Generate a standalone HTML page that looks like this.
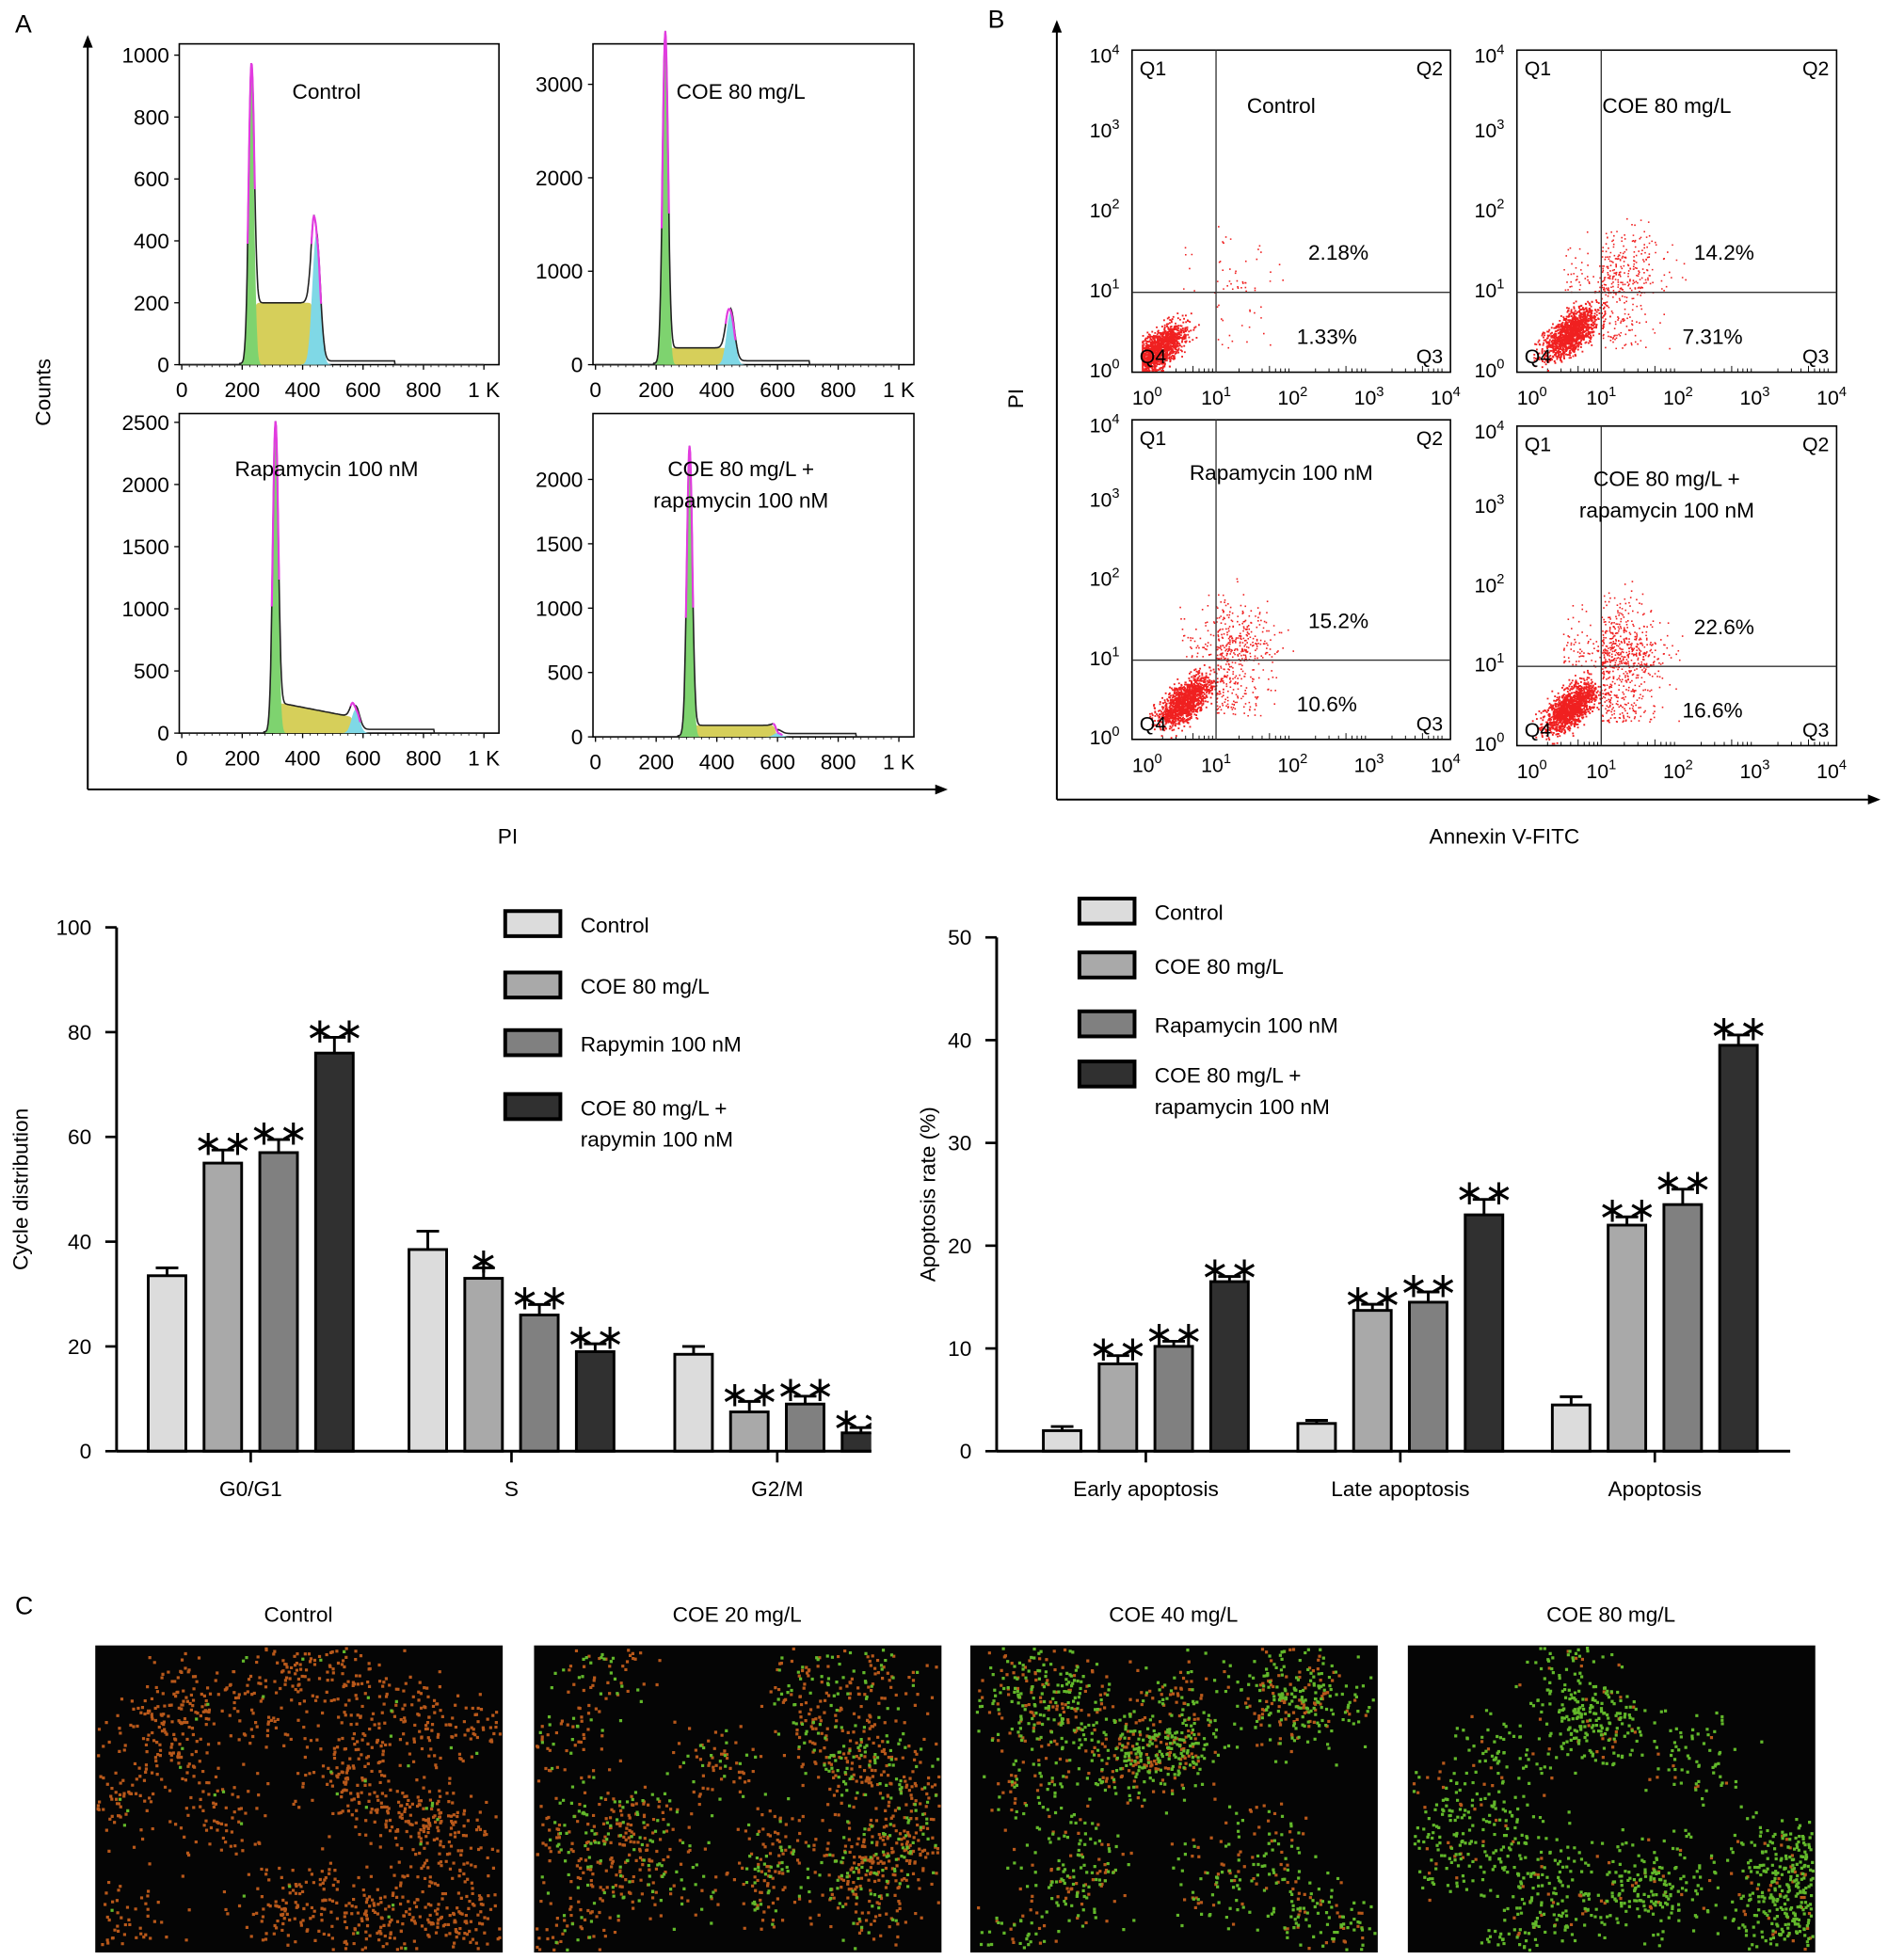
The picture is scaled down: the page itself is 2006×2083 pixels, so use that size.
<!DOCTYPE html>
<html><head><meta charset="utf-8"><style>
html,body{margin:0;padding:0;background:#fff}
svg{display:block;font-family:"Liberation Sans",sans-serif}
</style></head><body>
<svg id="fig" width="2006" height="2083" viewBox="0 0 1506 1564" preserveAspectRatio="none" xmlns="http://www.w3.org/2000/svg">
<g id="panelA"></g>
<g id="panelB"></g>
<g id="bar1"></g>
<g id="bar2"></g>
<g id="panelC"></g>
</svg>
<script>
// ---- data ----
const histTitles=[["Control"],["COE 80 mg/L"],["Rapamycin 100 nM"],["COE 80 mg/L +","rapamycin 100 nM"]];
const histYMax=[1000,3500,2500,2200];
const histYStep=[200,1000,500,500];
const histG1Pos=[230,230,310,310];
const histG1Height=[950,3550,2480,2250];
const histSLevel=[200,180,250,90];
const histG2Pos=[445,445,575,600];
const histG2Height=[420,560,190,30];
const histXTicks=["0","200","400","600","800","1 K"];

const dotTitles=[["Control"],["COE 80 mg/L"],["Rapamycin 100 nM"],["COE 80 mg/L +","rapamycin 100 nM"]];
const dotQ2=["2.18%","14.2%","15.2%","22.6%"];
const dotQ3=["1.33%","7.31%","10.6%","16.6%"];
const dotQ2Val=[2.18,14.2,15.2,22.6];
const dotQ3Val=[1.33,7.31,10.6,16.6];

const cycleCats=["G0/G1","S","G2/M"];
const cycleControl=[33.5,38.5,18.5];
const cycleCOE=[55,33,7.5];
const cycleRapa=[57,26,9];
const cycleCombo=[76,19,3.5];
const cycleErrControl=[1.5,3.5,1.5];
const cycleErrCOE=[2.5,2,2];
const cycleErrRapa=[2.5,2,1.5];
const cycleErrCombo=[3,1.5,1];
const cycleStars=[["","**","**","**"],["","*","**","**"],["","**","**","**"]];
const cycleTicks=[0,20,40,60,80,100];

const apoCats=["Early apoptosis","Late apoptosis","Apoptosis"];
const apoControl=[2,2.7,4.5];
const apoCOE=[8.5,13.7,22];
const apoRapa=[10.2,14.5,24];
const apoCombo=[16.5,23,39.5];
const apoErrControl=[0.4,0.3,0.8];
const apoErrCOE=[0.8,0.6,0.8];
const apoErrRapa=[0.5,1,1.5];
const apoErrCombo=[0.5,1.5,1];
const apoStars=[["","**","**","**"],["","**","**","**"],["","**","**","**"]];
const apoTicks=[0,10,20,30,40,50];

const imgTitles=["Control","COE 20 mg/L","COE 40 mg/L","COE 80 mg/L"];
const imgGreenFrac=[0.03,0.3,0.6,0.88];

const NS="http://www.w3.org/2000/svg";
function el(tag,attrs,parent,txt){const e=document.createElementNS(NS,tag);for(const k in attrs)e.setAttribute(k,attrs[k]);if(txt!==undefined)e.textContent=txt;parent.appendChild(e);return e;}
let seed=12345;function rnd(){seed=(seed*1103515245+12345)%2147483648;return seed/2147483648;}
function gauss(){return (rnd()+rnd()+rnd()+rnd()-2)/0.58;}

// ---- Panel A ----
const A=document.getElementById('panelA');
let t=el('text',{x:12,y:26,'font-size':20},A,"A");
el('line',{x1:70,y1:36,x2:70,y2:630,stroke:'#000','stroke-width':1.5},A);
el('path',{d:'M66,38 L70,28 L74,38 Z',fill:'#000'},A);
el('line',{x1:70,y1:630,x2:748,y2:630,stroke:'#000','stroke-width':1.5},A);
el('path',{d:'M746,626 L756,630 L746,634 Z',fill:'#000'},A);
t=el('text',{x:40,y:313,'font-size':17,'text-anchor':'middle',transform:'rotate(-90 40 313)'},A,"Counts");
t=el('text',{x:405,y:673,'font-size':17,'text-anchor':'middle'},A,"PI");
const hBoxes=[[143,35,398,291],[473,35,729,291],[143,330,398,585],[473,330,729,588]];
hBoxes.forEach((b,i)=>{
  const g=el('g',{},A);
  const [x0,y0,x1,y1]=b;
  const top=(i==0?44:i==1?30:i==2?337:362);
  const ymax=histYMax[i];
  const sy=v=>y1-(v/ymax)*(y1-top);
  const sx=c=>x0+2+c*(x1-x0-14)/1000;
  el('rect',{x:x0,y:y0,width:x1-x0,height:y1-y0,fill:'#fff',stroke:'#000','stroke-width':1.2},g);
  for(let v=0;v<=ymax+1;v+=histYStep[i]){const y=sy(v);if(y<y0-2)continue;el('line',{x1:x0-4,y1:y,x2:x0,y2:y,stroke:'#000'},g);el('text',{x:x0-8,y:y+6,'font-size':17,'text-anchor':'end'},g,String(v));}
  histXTicks.forEach((l,k)=>{const x=sx(k*200);el('line',{x1:x,y1:y1,x2:x,y2:y1+4,stroke:'#000'},g);el('text',{x:x,y:y1+26,'font-size':17,'text-anchor':'middle'},g,l);});
  for(let c=0;c<=1000;c+=25){el('line',{x1:sx(c),y1:y1,x2:sx(c),y2:y1+2,stroke:'#000','stroke-width':0.6},g);}
  const p1=histG1Pos[i],h1=histG1Height[i],p2=histG2Pos[i],h2=histG2Height[i],sl=histSLevel[i];
  const G1=c=>h1*Math.exp(-Math.pow((c-p1)/9,2)/2);
  const G2=c=>h2*Math.exp(-Math.pow((c-p2)/13,2)/2);
  const S=c=>{if(c<p1||c>p2)return 0;const a=1/(1+Math.exp(-(c-p1-6)/3)),bb=1/(1+Math.exp((c-p2+6)/3));return sl*a*bb*(i==2?(1-0.5*(c-p1)/(p2-p1)):1);};
  function area(f,col){let d='M'+sx(p1-60)+','+y1;for(let c=p1-60;c<=p2+80;c+=2){d+=' L'+sx(c).toFixed(1)+','+sy(f(c)).toFixed(1);}d+=' L'+sx(p2+80)+','+y1+'Z';el('path',{d:d,fill:col,stroke:'none'},g);}
  area(S,'#d6cf5a');area(G2,'#7fd8e6');area(G1,'#7ed36f');
  let d='';for(let c=0;c<=1000;c+=2){const v=G1(c)+G2(c)+S(c)+(c>p2&&c<p2+260?ymax*0.012:0)+(c>p1-40&&c<p1?ymax*0.004:0);d+=(c?' L':'M')+sx(c).toFixed(1)+','+sy(v).toFixed(1);}
  el('path',{d:d,fill:'none',stroke:'#222','stroke-width':1.2},g);
  let pk='';for(let c=p1-12;c<=p1+12;c+=2){pk+=(c==p1-12?'M':' L')+sx(c).toFixed(1)+','+sy(G1(c)+S(c)).toFixed(1);}el('path',{d:pk,fill:'none',stroke:'#e23be0','stroke-width':1.6},g);
  pk='';for(let c=p2-16;c<=p2+16;c+=2){pk+=(c==p2-16?'M':' L')+sx(c).toFixed(1)+','+sy(G2(c)+S(c)).toFixed(1);}el('path',{d:pk,fill:'none',stroke:'#e23be0','stroke-width':1.6},g);
  const tt=histTitles[i];const tx=(x0+x1)/2-10;const ty=(i<2?79:380);
  tt.forEach((s,k)=>el('text',{x:tx,y:ty+k*25,'font-size':17,'text-anchor':'middle'},g,s));
});

// ---- Panel B ----
const B=document.getElementById('panelB');
t=el('text',{x:788,y:22,'font-size':20},B,"B");
el('line',{x1:843,y1:24,x2:843,y2:638,stroke:'#000','stroke-width':1.5},B);
el('path',{d:'M839,26 L843,16 L847,26 Z',fill:'#000'},B);
el('line',{x1:843,y1:638,x2:1492,y2:638,stroke:'#000','stroke-width':1.5},B);
el('path',{d:'M1490,634 L1500,638 L1490,642 Z',fill:'#000'},B);
t=el('text',{x:816,y:318,'font-size':17,'text-anchor':'middle',transform:'rotate(-90 816 318)'},B,"PI");
t=el('text',{x:1200,y:673,'font-size':17,'text-anchor':'middle'},B,"Annexin V-FITC");
const dBoxes=[[903,40,1157,297],[1210,40,1465,297],[903,335,1157,590],[1210,340,1465,595]];
dBoxes.forEach((b,i)=>{
  const g=el('g',{},B);
  const [x0,y0,x1,y1]=b;
  const lx=v=>x0+6+v*(x1-x0-10)/4, ly=v=>y1-v*(y1-y0-2)/4;
  el('rect',{x:x0,y:y0,width:x1-x0,height:y1-y0,fill:'#fff',stroke:'#000','stroke-width':1.2},g);
  for(let k=0;k<=4;k++){
    el('text',{x:lx(k)+(k==0?6:0),y:y1+26,'font-size':16,'text-anchor':'middle'},g,'10').appendChild(Object.assign(document.createElementNS(NS,'tspan'),{textContent:String(k)}));
    el('text',{x:x0-10,y:ly(k)+(k==4?8:4),'font-size':16,'text-anchor':'end'},g,'10').appendChild(Object.assign(document.createElementNS(NS,'tspan'),{textContent:String(k)}));
  }
  g.querySelectorAll('tspan').forEach(s=>{s.setAttribute('dy','-7');s.setAttribute('font-size','11');});
  for(let k=0;k<4;k++)for(let m=2;m<10;m++){const v=k+Math.log10(m);el('line',{x1:lx(v),y1:y1,x2:lx(v),y2:y1-(m==5?5:3),stroke:'#000','stroke-width':0.7},g);}
  seed=1000+i*77;
  const n=1300;
  let dots='';
  const cx=(i==0?0.25:0.6),cy=(i==0?0.3:0.5);
  for(let k=0;k<n;k++){const a=gauss()*0.16,bq=gauss()*0.07;let x=cx+a+bq,y=cy+a*0.9-bq;x=Math.max(0.03,x);y=Math.max(0.03,y);dots+='M'+lx(x).toFixed(1)+','+ly(y).toFixed(1)+'h1.4v1.4h-1.4z';}
  const n2=Math.round(dotQ2Val[i]*18),n3=Math.round(dotQ3Val[i]*14);
  for(let k=0;k<n2;k++){let x=1+Math.abs(gauss())*0.4,y=1+Math.abs(gauss())*0.38;dots+='M'+lx(Math.min(x,3.9)).toFixed(1)+','+ly(Math.min(y,3.9)).toFixed(1)+'h1.2v1.2h-1.2z';}
  for(let k=0;k<n3;k++){let x=1+Math.abs(gauss())*0.35,y=0.3+rnd()*0.7;dots+='M'+lx(Math.min(x,3.9)).toFixed(1)+','+ly(y).toFixed(1)+'h1.2v1.2h-1.2z';}
  for(let k=0;k<n2/6;k++){let x=0.5+rnd()*0.5,y=1+Math.abs(gauss())*0.35;dots+='M'+lx(x).toFixed(1)+','+ly(Math.min(y,3.9)).toFixed(1)+'h1.2v1.2h-1.2z';}
  el('path',{d:dots,fill:'#f02020'},g);
  el('line',{x1:lx(1),y1:y0,x2:lx(1),y2:y1,stroke:'#333','stroke-width':1},g);
  el('line',{x1:x0,y1:ly(1),x2:x1,y2:ly(1),stroke:'#333','stroke-width':1},g);
  el('text',{x:x0+6,y:y0+20,'font-size':16},g,"Q1");
  el('text',{x:x1-6,y:y0+20,'font-size':16,'text-anchor':'end'},g,"Q2");
  el('text',{x:x1-6,y:y1-7,'font-size':16,'text-anchor':'end'},g,"Q3");
  el('text',{x:x0+6,y:y1-7,'font-size':16},g,"Q4");
  dotTitles[i].forEach((s,k)=>el('text',{x:(x0+x1)/2-8,y:y0+(i>=2?48:50)+k*25,'font-size':17,'text-anchor':'middle'},g,s));
  el('text',{x:lx(2.6),y:ly(1.5)+6,'font-size':17,'text-anchor':'middle'},g,dotQ2[i]);
  el('text',{x:lx(2.45),y:ly(0.45)+6,'font-size':17,'text-anchor':'middle'},g,dotQ3[i]);
});

// ---- Bar charts ----
const fills=['#dcdcdc','#a9a9a9','#808080','#303030'];
function barChart(G,cfg){
  const {ax,ayTop,ay0,axEnd,vmax,ticks,cats,series,errs,stars,centers,leg,legY,title,titleX,clip,catY}=cfg;
  const sy=v=>ay0-(v/vmax)*(ay0-ayTop);
  if(clip){const cp=el('clipPath',{id:clip},G);el('rect',{x:0,y:0,width:axEnd,height:1300},cp);}
  const bg=el('g',clip?{'clip-path':'url(#'+clip+')'}:{},G);
  cats.forEach((c,ci)=>{
    series.forEach((s,si)=>{
      const cx=centers[ci]+(si-1.5)*44.5;const v=s[ci],e=errs[si][ci];
      const r=el('rect',{x:cx-15,y:sy(v),width:30,height:ay0-sy(v),fill:fills[si],stroke:'#000','stroke-width':2.2},bg);
      
      el('line',{x1:cx,y1:sy(v),x2:cx,y2:sy(v+e),stroke:'#000','stroke-width':2.2},bg);
      el('line',{x1:cx-9,y1:sy(v+e),x2:cx+9,y2:sy(v+e),stroke:'#000','stroke-width':2.2},bg);
      if(stars[ci][si])el('text',{x:cx,y:sy(v+e)+4,'font-size':28,'text-anchor':'middle'},bg,stars[ci][si].replace(/\*/g,'∗'));
    });
    el('line',{x1:centers[ci],y1:ay0,x2:centers[ci],y2:ay0+9,stroke:'#000','stroke-width':2},G);
    el('text',{x:centers[ci],y:catY,'font-size':17,'text-anchor':'middle'},G,c);
  });
  el('line',{x1:ax,y1:ayTop,x2:ax,y2:ay0,stroke:'#000','stroke-width':2.2},G);
  el('line',{x1:ax,y1:ay0,x2:axEnd,y2:ay0,stroke:'#000','stroke-width':2.2},G);
  ticks.forEach(v=>{el('line',{x1:ax-9,y1:sy(v),x2:ax,y2:sy(v),stroke:'#000','stroke-width':2},G);el('text',{x:ax-20,y:sy(v)+6,'font-size':17,'text-anchor':'end'},G,String(v));});
  el('text',{x:titleX,y:(ayTop+ay0)/2,'font-size':17,'text-anchor':'middle',transform:'rotate(-90 '+titleX+' '+(ayTop+ay0)/2+')'},G,title);
  leg.forEach((L,k)=>{
    const lg=el('g',{},G);
    el('rect',{x:cfg.legX,y:legY[k],width:44,height:20,fill:fills[k],stroke:'#000','stroke-width':3},lg);
    L.forEach((s,j)=>el('text',{x:cfg.legX+60,y:legY[k]+17+j*25,'font-size':17},lg,s));
  });
}
barChart(document.getElementById('bar1'),{ax:93,ayTop:740,ay0:1158,axEnd:695,vmax:100,ticks:cycleTicks,cats:cycleCats,
 series:[cycleControl,cycleCOE,cycleRapa,cycleCombo],errs:[cycleErrControl,cycleErrCOE,cycleErrRapa,cycleErrCombo],stars:cycleStars,
 centers:[200,408,620],legX:403,legY:[727,776,822,873],leg:[["Control"],["COE 80 mg/L"],["Rapymin 100 nM"],["COE 80 mg/L +","rapymin 100 nM"]],
 title:"Cycle distribution",titleX:22,clip:'c1',catY:1194});
barChart(document.getElementById('bar2'),{ax:795,ayTop:748,ay0:1158,axEnd:1428,vmax:50,ticks:apoTicks,cats:apoCats,
 series:[apoControl,apoCOE,apoRapa,apoCombo],errs:[apoErrControl,apoErrCOE,apoErrRapa,apoErrCombo],stars:apoStars,
 centers:[914,1117,1320],legX:861,legY:[717,760,807,847],leg:[["Control"],["COE 80 mg/L"],["Rapamycin 100 nM"],["COE 80 mg/L +","rapamycin 100 nM"]],
 title:"Apoptosis rate (%)",titleX:746,clip:null,catY:1194});

// ---- Panel C ----
const C=document.getElementById('panelC');
t=el('text',{x:12,y:1288,'font-size':20},C,"C");
const imgX=[76,426,774,1123];
imgX.forEach((x,i)=>{
  const g=el('g',{},C);
  el('text',{x:x+162,y:1294,'font-size':17,'text-anchor':'middle'},g,imgTitles[i]);
  el('rect',{x:x,y:1313,width:325,height:245,fill:'#050505'},g);
  seed=500+i*31;
  let dg='',dr='';
  const clusters=[];for(let k=0;k<22;k++)clusters.push([x+5+rnd()*315,1316+rnd()*238]);
  for(let k=0;k<1500;k++){const c=clusters[k%22];const px=c[0]+gauss()*20,py=c[1]+gauss()*18;if(px<x+1||px>x+322||py<1314||py>1555)continue;const s='M'+px.toFixed(1)+','+py.toFixed(1)+'h2.4v2.4h-2.4z';if(rnd()<imgGreenFrac[i])dg+=s;else dr+=s;}
  el('path',{d:dr,fill:'#b8581a'},g);el('path',{d:dg,fill:'#62b82a'},g);
});
</script>
</body></html>
